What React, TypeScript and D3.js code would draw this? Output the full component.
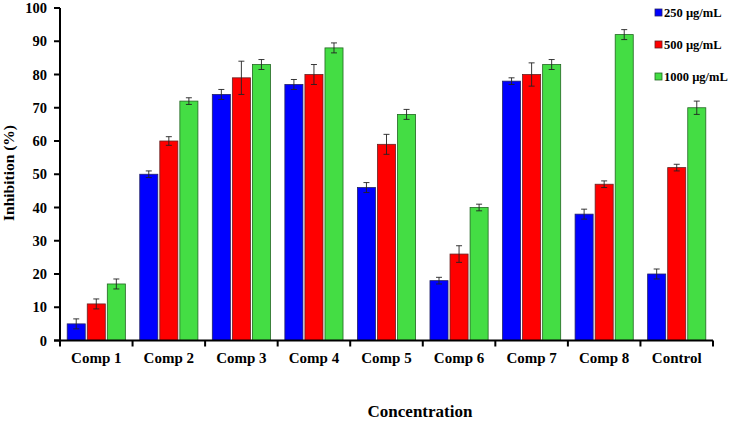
import React from "react";
import * as d3 from "d3";

const categories = ["Comp 1", "Comp 2", "Comp 3", "Comp 4", "Comp 5", "Comp 6", "Comp 7", "Comp 8", "Control"];
const seriesNames = ["250 µg/mL", "500 µg/mL", "1000 µg/mL"];
const values250 = [5, 50, 74, 77, 46, 18, 78, 38, 20];
const values500 = [11, 60, 79, 80, 59, 26, 80, 47, 52];
const values1000 = [17, 72, 83, 88, 68, 40, 83, 92, 70];
const err250 = [1.5, 1, 1.5, 1.5, 1.5, 1, 1, 1.5, 1.5];
const err500 = [1.5, 1.3, 5, 3, 3, 2.5, 3.5, 1, 1];
const err1000 = [1.5, 1, 1.5, 1.5, 1.5, 1, 1.5, 1.5, 2];
const yTicks = [0, 10, 20, 30, 40, 50, 60, 70, 80, 90, 100];

const colors = ["#0000FF", "#FF0000", "#44DD44"];
const strokes = ["#222266", "#662222", "#226622"];

export default function App() {
  const W = 733, H = 421;
  const left = 60, right = 713, top = 8, bottom = 340.5;
  const x = d3.scaleBand<string>().domain(categories).range([left, right]).paddingInner(0).paddingOuter(0);
  const y = d3.scaleLinear().domain([0, 100]).range([bottom, top]);
  const inner = d3.scaleBand<number>().domain([0, 1, 2]).range([7.2, x.bandwidth() - 7.2]).paddingInner(0.1);
  const vals = [values250, values500, values1000];
  const errs = [err250, err500, err1000];
  const font = "'Liberation Serif', 'Times New Roman', serif";
  const boundaries = categories.map((c) => (x(c) as number) + x.bandwidth()).concat([left]);

  return (
    <svg width={W} height={H} style={{ position: "absolute", left: 0, top: 0, background: "#fff" }} fontFamily={font}>
      {categories.map((c, i) => (
        <g key={c} transform={`translate(${x(c)},0)`}>
          {[0, 1, 2].map((s) => {
            const v = vals[s][i];
            const e = errs[s][i];
            const bx = inner(s) as number;
            const bw = inner.bandwidth();
            const cx = bx + bw / 2;
            return (
              <g key={s}>
                <rect x={bx} y={y(v)} width={bw} height={y(0) - y(v)} fill={colors[s]} stroke={strokes[s]} strokeWidth={0.8} />
                <line x1={cx} x2={cx} y1={y(v + e)} y2={y(v - e)} stroke="#222" strokeWidth={0.9} />
                <line x1={cx - 3} x2={cx + 3} y1={y(v + e)} y2={y(v + e)} stroke="#222" strokeWidth={0.9} />
                <line x1={cx - 3} x2={cx + 3} y1={y(v - e)} y2={y(v - e)} stroke="#222" strokeWidth={0.9} />
              </g>
            );
          })}
          <text x={x.bandwidth() / 2} y={363} textAnchor="middle" fontWeight="bold" fontSize={15}>{c}</text>
        </g>
      ))}
      {/* axes */}
      <line x1={left} x2={left} y1={top} y2={bottom + 1} stroke="#000" strokeWidth={2} />
      <line x1={left - 6} x2={right} y1={bottom} y2={bottom} stroke="#000" strokeWidth={2} />
      {yTicks.map((t) => (
        <g key={t}>
          <line x1={left - 6} x2={left} y1={y(t)} y2={y(t)} stroke="#000" strokeWidth={2} />
          <text x={left - 13} y={y(t) + 5} textAnchor="end" fontWeight="bold" fontSize={14.5}>{t}</text>
        </g>
      ))}
      {boundaries.map((b, i) => (
        <line key={i} x1={b} x2={b} y1={bottom} y2={bottom + 6} stroke="#000" strokeWidth={2} />
      ))}
      <text transform={`translate(13.5,173) rotate(-90)`} textAnchor="middle" fontWeight="bold" fontSize={15.5}>Inhibition (%)</text>
      <text x={420} y={417} textAnchor="middle" fontWeight="bold" fontSize={17}>Concentration</text>
      {seriesNames.map((n, s) => (
        <g key={n} transform={`translate(655,${9 + s * 32})`}>
          <rect x={0} y={0} width={7} height={7} fill={colors[s]} stroke={strokes[s]} strokeWidth={0.8} />
          <text x={9} y={8} fontWeight="bold" fontSize={12.5}>{n}</text>
        </g>
      ))}
    </svg>
  );
}
